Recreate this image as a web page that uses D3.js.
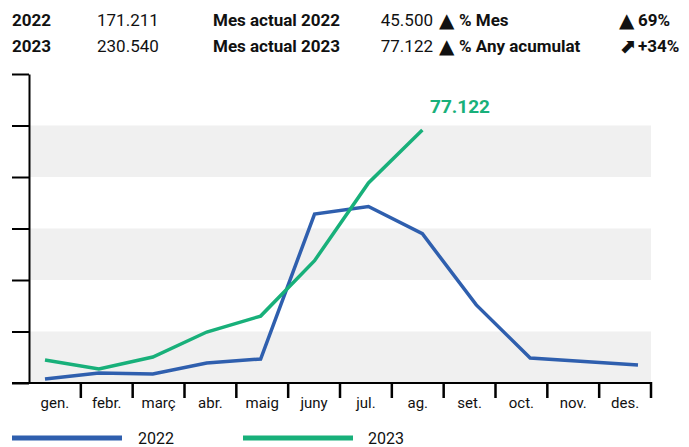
<!DOCTYPE html>
<html>
<head>
<meta charset="utf-8">
<script src="https://cdn.jsdelivr.net/npm/d3@7"></script>
<style>
  body { margin: 0; background: #fff; }
  svg { display: block; }
  svg text { font-family: Roboto, "Liberation Sans", sans-serif; fill: #111; }
</style>
</head>
<body>
<script>
// Data
var months = ["gen.", "febr.", "març", "abr.", "maig", "juny", "jul.", "ag.", "set.", "oct.", "nov.", "des."];
var values2022 = [1220, 3050, 2740, 6100, 7310, 51500, 53800, 45500, 23800, 7620, 6550, 5490];
var values2023 = [7010, 4270, 7920, 15540, 20400, 37300, 61000, 77122];
var headerRows = [
  ["2022", "171.211", "Mes actual 2022", "45.500", "▲", "% Mes", "▲", "69%"],
  ["2023", "230.540", "Mes actual 2023", "77.122", "▲", "% Any acumulat", "⬈", "+34%"]
];
var lastLabel = "77.122";

var svgWidth = 689;
var svgHeight = 447;

var blue = "#2f5fae";
var green = "#18b07a";

var svg = d3.select("body")
  .append("svg")
  .attr("width", svgWidth)
  .attr("height", svgHeight);

// scales
var xBand = d3.scaleBand().domain(months).range([29, 651]);
var xPoint = d3.scalePoint().domain(months).range([45, 638]);
var yScale = d3.scaleLinear().domain([0, 94200]).range([383, 74]);
var yTicks = d3.range(0, 7).map(i => i * 94200 / 6);

// grey stripes
svg.append("g")
  .selectAll("rect")
  .data([1, 3, 5])
  .enter()
  .append("rect")
  .attr("x", 29)
  .attr("width", 622)
  .attr("y", d => yScale(yTicks[d]))
  .attr("height", d => yScale(yTicks[d - 1]) - yScale(yTicks[d]))
  .attr("fill", "#f0f0f0");

// y axis (ticks only, no labels)
svg.append("g")
  .attr("transform", "translate(29,0)")
  .call(d3.axisLeft(yScale).tickValues(yTicks).tickSize(17).tickFormat("").tickSizeOuter(0))
  .call(g => g.selectAll("path, line").attr("stroke", "#000").attr("stroke-width", 2));

// lines
var line = d3.line()
  .x((d, i) => xPoint(months[i]))
  .y(d => yScale(d));

svg.append("path")
  .datum(values2022)
  .attr("d", line)
  .attr("fill", "none")
  .attr("stroke", blue)
  .attr("stroke-width", 3.5);

svg.append("path")
  .datum(values2023)
  .attr("d", line)
  .attr("fill", "none")
  .attr("stroke", green)
  .attr("stroke-width", 3.5);

svg.append("text")
  .attr("x", 430)
  .attr("y", 113)
  .style("font-size", "19px")
  .style("font-weight", "bold")
  .style("fill", green)
  .text(lastLabel);

// x axis line
svg.append("rect")
  .attr("x", 12).attr("y", 382)
  .attr("width", 640).attr("height", 2)
  .attr("fill", "#000");

// month separators
svg.append("g")
  .selectAll("rect")
  .data(months)
  .enter()
  .append("rect")
  .attr("x", d => xBand(d) + xBand.bandwidth() - 1.25)
  .attr("y", 382)
  .attr("width", 2.5)
  .attr("height", 16)
  .attr("fill", "#000");

svg.append("g")
  .selectAll("text")
  .data(months)
  .enter()
  .append("text")
  .attr("x", d => xBand(d) + xBand.bandwidth() / 2)
  .attr("y", 408)
  .attr("text-anchor", "middle")
  .style("font-size", "15px")
  .text(d => d);

// header
var colX = [12, 97, 213, 433, 439, 459, 619, 638];
var header = svg.append("g");
headerRows.forEach(function(row, r) {
  var y = 26 + r * 26;
  row.forEach(function(txt, c) {
    var isIcon = (c === 4 || c === 6);
    header.append("text")
      .attr("x", colX[c])
      .attr("y", isIcon ? y + 1 : y)
      .attr("text-anchor", c === 3 ? "end" : "start")
      .style("font-family", isIcon ? "DejaVu Sans" : null)
      .style("font-size", isIcon ? "20px" : "17px")
      .style("font-weight", (c === 1 || c === 3) ? "normal" : "bold")
      .text(txt);
  });
});

// legend
var legend = [["2022", blue, 12, 138], ["2023", green, 243, 368]];
legend.forEach(function(l) {
  svg.append("rect")
    .attr("x", l[2]).attr("y", 435.5)
    .attr("width", 110).attr("height", 5)
    .attr("fill", l[1]);
  svg.append("text")
    .attr("x", l[3])
    .attr("y", 444)
    .style("font-size", "16px")
    .text(l[0]);
});
</script>
</body>
</html>
